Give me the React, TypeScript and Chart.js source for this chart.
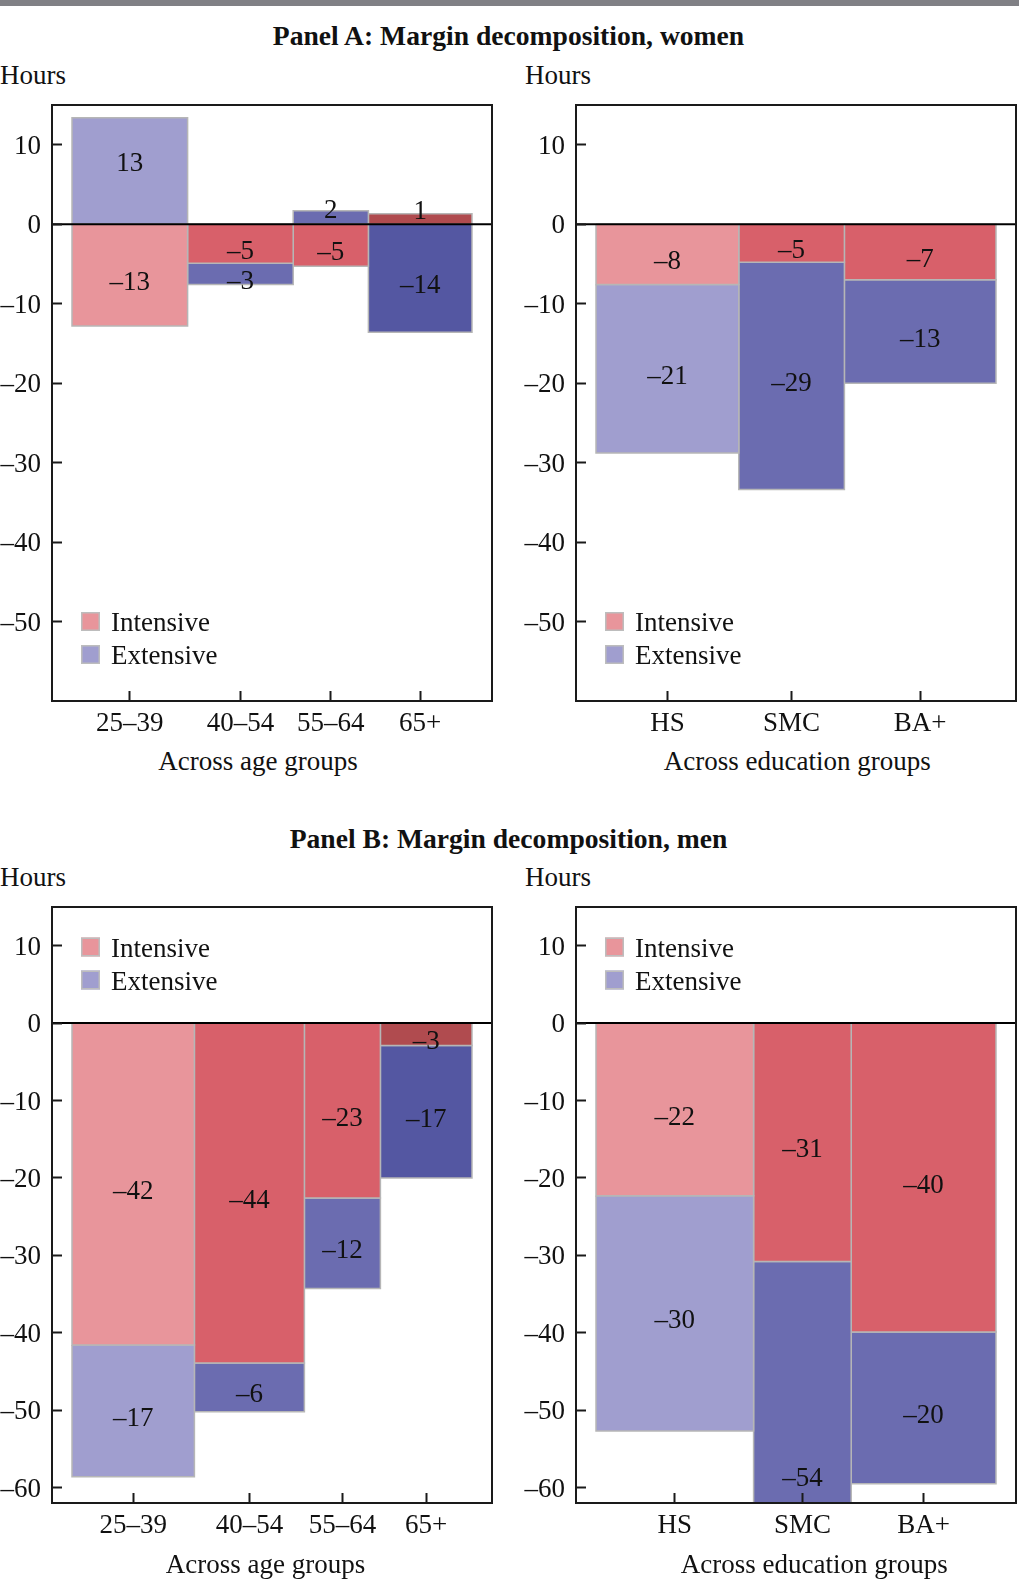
import React, { useEffect, useRef } from 'react';
import { Chart, registerables } from 'chart.js';

Chart.register(...registerables);

const SERIF = '"Liberation Serif", "Times New Roman", Times, serif';

// ---------------- data ----------------
const ageGroups = ['25–39', '40–54', '55–64', '65+'];
const eduGroups = ['HS', 'SMC', 'BA+'];
const seriesNames = ['Intensive', 'Extensive'];

// Panel A: women (bar widths = group shares)
const womenAgeShares = [0.289, 0.264, 0.188, 0.259];
const womenAgeIntensive = [-12.8, -4.9, -5.3, 1.3];
const womenAgeExtensive = [13.4, -2.7, 1.7, -13.6];

const womenEduShares = [0.357, 0.264, 0.379];
const womenEduIntensive = [-7.6, -4.8, -7.0];
const womenEduExtensive = [-21.2, -28.6, -13.0];

// Panel B: men
const menAgeShares = [0.306, 0.275, 0.19, 0.229];
const menAgeIntensive = [-41.6, -43.9, -22.6, -2.9];
const menAgeExtensive = [-17.0, -6.3, -11.7, -17.1];

const menEduShares = [0.394, 0.244, 0.362];
const menEduIntensive = [-22.3, -30.8, -39.9];
const menEduExtensive = [-30.4, -54.0, -19.6];

const yTicksA = [10, 0, -10, -20, -30, -40, -50];
const yTicksB = [10, 0, -10, -20, -30, -40, -50, -60];
const yRangeA = [-60, 15];
const yRangeB = [-62, 15];
const xRange = [-0.05, 1.05];

// ---------------- styles ----------------
const INT_COLORS: Record<string, string> = { light: '#e8959b', mid: '#d8606a', dark: '#b04b4f' };
const EXT_COLORS: Record<string, string> = { light: '#a09ecf', mid: '#6b6cb0', dark: '#5457a2' };
const ageShades = ['light', 'mid', 'mid', 'dark'];
const eduShades = ['light', 'mid', 'mid'];
const BAR_EDGE = '#b6b6b6';
const INK = '#111111';

type Rect = { left: number; top: number; width: number; height: number };
type Area = { left: number; top: number; right: number; bottom: number };
type Spec = {
  shares: number[];
  intensive: number[];
  extensive: number[];
  labels: string[];
  shades: string[];
  yRange: number[];
  yTicks: number[];
  legend: 'top' | 'bottom';
  box: Rect;
  area: Area;
};

const fmt = (v: number) => {
  const r = Math.round(v);
  return r < 0 ? '\u2013' + Math.abs(r) : String(r);
};

function MarginChart({ spec }: { spec: Spec }) {
  const ref = useRef<HTMLCanvasElement>(null);
  useEffect(() => {
    const canvas = ref.current!;
    const { box, area } = spec;
    const yAxisW = area.left - box.left;
    const padTop = area.top - box.top;
    const padRight = box.left + box.width - area.right;
    const xAxisH = box.top + box.height - area.bottom;

    const bounds: number[] = [0];
    spec.shares.forEach((s) => bounds.push(bounds[bounds.length - 1] + s));
    const centers = spec.shares.map((s, i) => bounds[i] + s / 2);

    type Seg = { i: number; lo: number; hi: number; value: number; color: string; name: string };
    const segs: Seg[] = [];
    spec.intensive.forEach((iv, i) => {
      const ev = spec.extensive[i];
      const eLo = Math.sign(ev) === Math.sign(iv) ? iv : 0;
      segs.push({ i, lo: 0, hi: iv, value: iv, color: INT_COLORS[spec.shades[i]], name: seriesNames[0] });
      segs.push({ i, lo: eLo, hi: eLo + ev, value: ev, color: EXT_COLORS[spec.shades[i]], name: seriesNames[1] });
    });

    const datasets = segs.map((s) => ({
      label: `${s.name} ${spec.labels[s.i]}`,
      data: [
        { x: bounds[s.i], y: s.lo },
        { x: bounds[s.i], y: s.hi },
        { x: bounds[s.i + 1], y: s.hi },
        { x: bounds[s.i + 1], y: s.lo },
        { x: bounds[s.i], y: s.lo },
      ],
      fill: 'shape',
      backgroundColor: s.color,
      borderColor: BAR_EDGE,
      borderWidth: 1.5,
      pointRadius: 0,
      pointHoverRadius: 0,
      tension: 0,
    }));

    const decor = {
      id: 'decor',
      afterDatasetsDraw(chart: any) {
        const { ctx, chartArea: ca, scales } = chart;
        const xs = scales.x;
        const ys = scales.y;
        ctx.save();
        // zero line
        const y0 = ys.getPixelForValue(0);
        ctx.strokeStyle = '#000';
        ctx.lineWidth = 2;
        ctx.beginPath();
        ctx.moveTo(ca.left, y0);
        ctx.lineTo(ca.right, y0);
        ctx.stroke();
        // value labels
        ctx.font = `27px ${SERIF}`;
        ctx.fillStyle = INK;
        ctx.textAlign = 'center';
        ctx.textBaseline = 'middle';
        segs.forEach((s) => {
          const x = xs.getPixelForValue(centers[s.i]);
          const y = ys.getPixelForValue((s.lo + s.hi) / 2) + (s.value >= 0 ? -7 : 8);
          ctx.fillText(fmt(s.value), x, y);
        });
        // frame
        ctx.strokeStyle = '#1a1a1a';
        ctx.lineWidth = 2;
        ctx.strokeRect(ca.left, ca.top, ca.right - ca.left, ca.bottom - ca.top);
        // legend
        const lx = ca.left + 29;
        let ly = spec.legend === 'bottom' ? ca.bottom - 89 : ca.top + 30.5;
        [INT_COLORS.light, EXT_COLORS.light].forEach((c, k) => {
          ctx.fillStyle = c;
          ctx.fillRect(lx, ly, 19, 19);
          ctx.strokeStyle = '#bdbdbd';
          ctx.lineWidth = 1.5;
          ctx.strokeRect(lx + 0.75, ly + 0.75, 17.5, 17.5);
          ctx.fillStyle = INK;
          ctx.textAlign = 'left';
          ctx.textBaseline = 'alphabetic';
          ctx.fillText(seriesNames[k], lx + 30, ly + 19);
          ly += 33;
        });
        ctx.restore();
      },
    };

    const tickFont = { family: SERIF, size: 27 };
    const chart = new Chart(canvas, {
      type: 'line',
      data: { datasets: datasets as any },
      options: {
        animation: false,
        responsive: false,
        events: [],
        layout: { padding: { left: 0, top: padTop, right: padRight, bottom: 0 }, autoPadding: false } as any,
        plugins: { legend: { display: false }, tooltip: { enabled: false }, title: { display: false } },
        scales: {
          x: {
            type: 'linear',
            position: 'bottom',
            min: xRange[0],
            max: xRange[1],
            afterBuildTicks: (s: any) => {
              s.ticks = centers.map((v) => ({ value: v }));
            },
            afterFit: (s: any) => {
              s.height = xAxisH;
              s.paddingLeft = 0;
              s.paddingRight = 0;
              s.paddingTop = 0;
              s.paddingBottom = 0;
            },
            ticks: {
              autoSkip: false,
              maxRotation: 0,
              minRotation: 0,
              padding: 17,
              color: INK,
              font: tickFont,
              callback: (_v: any, i: number) => spec.labels[i],
            },
            grid: {
              drawOnChartArea: false,
              drawTicks: true,
              tickLength: -10,
              tickWidth: 2,
              tickColor: '#1a1a1a',
              z: 1,
            },
            border: { display: false },
          } as any,
          y: {
            type: 'linear',
            position: 'left',
            min: spec.yRange[0],
            max: spec.yRange[1],
            afterBuildTicks: (s: any) => {
              s.ticks = spec.yTicks.map((v) => ({ value: v }));
            },
            afterFit: (s: any) => {
              s.width = yAxisW;
              s.paddingLeft = 0;
              s.paddingRight = 0;
              s.paddingTop = 0;
              s.paddingBottom = 0;
            },
            ticks: {
              padding: 21,
              labelOffset: 2,
              color: INK,
              font: tickFont,
              callback: (v: any) => fmt(Number(v)),
            },
            grid: {
              drawOnChartArea: false,
              drawTicks: true,
              tickLength: -10,
              tickWidth: 2,
              tickColor: '#1a1a1a',
              z: 1,
            },
            border: { display: false },
          } as any,
        },
      },
      plugins: [decor],
    });
    return () => chart.destroy();
  }, [spec]);
  return (
    <canvas
      ref={ref}
      width={spec.box.width}
      height={spec.box.height}
      style={{ position: 'absolute', left: spec.box.left, top: spec.box.top, width: spec.box.width, height: spec.box.height }}
    />
  );
}

function Txt({ text, x, baseline, size = 27, bold = false, center = false }: any) {
  const style: any = {
    position: 'absolute',
    top: baseline - 0.8375 * size,
    left: x,
    fontFamily: SERIF,
    fontSize: size,
    lineHeight: `${size}px`,
    fontWeight: bold ? 700 : 400,
    whiteSpace: 'nowrap',
    color: INK,
    margin: 0,
  };
  if (center) style.transform = 'translateX(-50%)';
  return <div style={style}>{text}</div>;
}

const specs: Spec[] = [
  {
    shares: womenAgeShares, intensive: womenAgeIntensive, extensive: womenAgeExtensive, labels: ageGroups,
    shades: ageShades, yRange: yRangeA, yTicks: yTicksA, legend: 'bottom',
    box: { left: 0, top: 95, width: 510, height: 650 }, area: { left: 52, top: 105, right: 492, bottom: 701 },
  },
  {
    shares: womenEduShares, intensive: womenEduIntensive, extensive: womenEduExtensive, labels: eduGroups,
    shades: eduShades, yRange: yRangeA, yTicks: yTicksA, legend: 'bottom',
    box: { left: 510, top: 95, width: 509, height: 650 }, area: { left: 576, top: 105, right: 1016, bottom: 701 },
  },
  {
    shares: menAgeShares, intensive: menAgeIntensive, extensive: menAgeExtensive, labels: ageGroups,
    shades: ageShades, yRange: yRangeB, yTicks: yTicksB, legend: 'top',
    box: { left: 0, top: 896, width: 510, height: 654 }, area: { left: 52, top: 907, right: 492, bottom: 1503 },
  },
  {
    shares: menEduShares, intensive: menEduIntensive, extensive: menEduExtensive, labels: eduGroups,
    shades: eduShades, yRange: yRangeB, yTicks: yTicksB, legend: 'top',
    box: { left: 510, top: 896, width: 509, height: 654 }, area: { left: 576, top: 907, right: 1016, bottom: 1503 },
  },
];

export default function App() {
  return (
    <div style={{ position: 'absolute', left: 0, top: 0, width: 1019, height: 1583, overflow: 'hidden', background: '#fff' }}>
      <div style={{ position: 'absolute', left: 0, top: 0, width: 1019, height: 6, background: '#808085' }} />
      {specs.map((s, i) => (
        <MarginChart key={i} spec={s} />
      ))}
      <Txt text="Panel A: Margin decomposition, women" x={508.5} baseline={45} size={27.6} bold center />
      <Txt text="Hours" x={0} baseline={84.3} />
      <Txt text="Hours" x={525} baseline={84.3} />
      <Txt text="Across age groups" x={258} baseline={770.3} center />
      <Txt text="Across education groups" x={797.2} baseline={770.3} center />
      <Txt text="Panel B: Margin decomposition, men" x={508.5} baseline={848.5} size={27.6} bold center />
      <Txt text="Hours" x={0} baseline={886.5} />
      <Txt text="Hours" x={525} baseline={886.5} />
      <Txt text="Across age groups" x={265.5} baseline={1573.7} center />
      <Txt text="Across education groups" x={814.3} baseline={1573.7} center />
    </div>
  );
}
